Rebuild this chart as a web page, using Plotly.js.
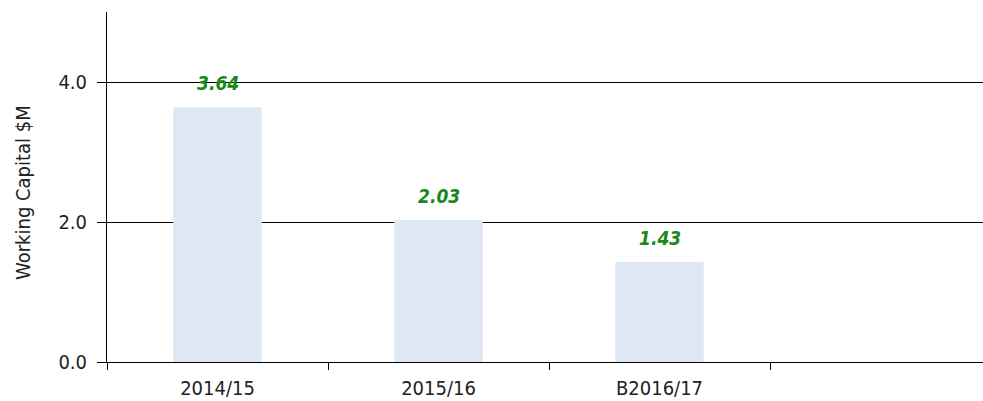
<!DOCTYPE html>
<html>
<head>
<meta charset="utf-8">
<script src="https://cdn.plot.ly/plotly-3.0.1.min.js"></script>
<style>
html,body{margin:0;padding:0;overflow:hidden;background:#fff;}
#chart{width:992px;height:401px;}
</style>
</head>
<body>
<div id="chart"></div>
<script>
const categories = ["2014/15", "2015/16", "B2016/17", " "];
const values = [3.64, 2.03, 1.43, null];
const yTicks = [0, 2, 4];
const yTickLabels = ["0.0", "2.0", "4.0"];
const yTitle = "Working Capital $M";

const FONT = "'DejaVu Sans Condensed', 'Liberation Sans Narrow', Arial, sans-serif";

const labelAnnotations = [];
categories.forEach((c, i) => {
  if (values[i] !== null) {
    labelAnnotations.push({
      x: c, y: values[i], xref: 'x', yref: 'y',
      text: values[i].toFixed(2), showarrow: false,
      yanchor: 'bottom', yshift: 11,
      font: {family: FONT, size: 19, color: '#178a17', weight: 'bold', style: 'italic'}
    });
  }
});

const data = [{
  type: 'bar',
  x: categories,
  y: values,
  width: 0.4,
  marker: {color: '#dde8f4', line: {width: 0}},
  hoverinfo: 'skip'
}];

const layout = {
  width: 992, height: 401,
  margin: {l: 107, r: 1, t: 12, b: 39, pad: 0},
  paper_bgcolor: '#fff', plot_bgcolor: '#fff',
  showlegend: false,
  font: {family: FONT, size: 20, color: '#222'},
  xaxis: {
    type: 'category',
    range: [-0.5, 3.5],
    tickson: 'boundaries',
    ticks: 'outside', ticklen: 7, tickcolor: '#000', tickwidth: 1,
    ticklabelstandoff: 8,
    showline: true, linecolor: '#000', linewidth: 1,
    showgrid: false, zeroline: false,
    tickfont: {family: FONT, size: 20, color: '#222'}
  },
  yaxis: {
    range: [0, 5],
    tickvals: yTicks, ticktext: yTickLabels,
    ticks: 'outside', ticklen: 9, tickcolor: '#000', tickwidth: 1,
    ticklabelstandoff: 6,
    showline: true, linecolor: '#000', linewidth: 1,
    showgrid: true, gridcolor: '#000', gridwidth: 1,
    zeroline: false,
    tickfont: {family: FONT, size: 20, color: '#222'},
    layer: 'below traces'
  },
  annotations: labelAnnotations.concat([{
    xref: 'paper', yref: 'paper', x: -0.095, y: 0.483,
    xanchor: 'center', yanchor: 'middle', textangle: -90,
    text: yTitle, showarrow: false,
    font: {family: FONT, size: 20, color: '#222'}
  }])
};

Plotly.newPlot('chart', data, layout, {displayModeBar: false, staticPlot: true});
</script>
</body>
</html>
